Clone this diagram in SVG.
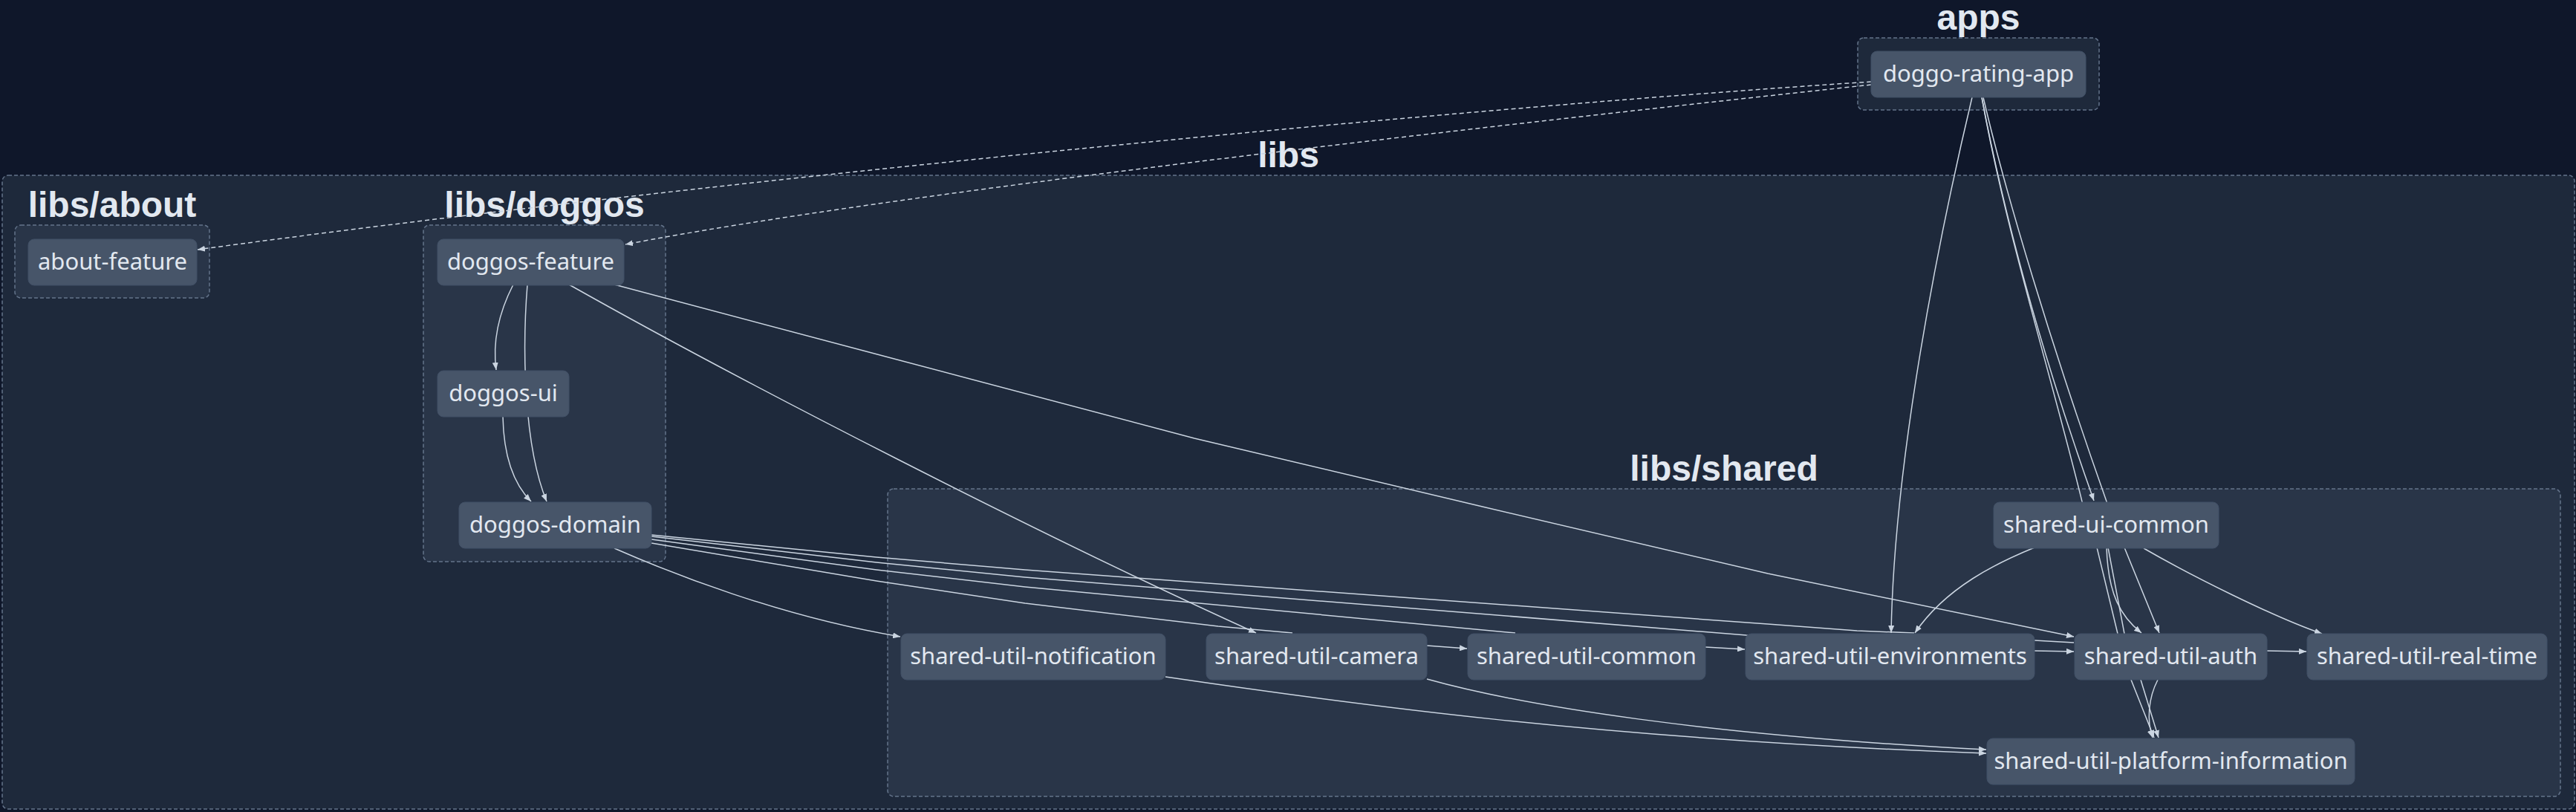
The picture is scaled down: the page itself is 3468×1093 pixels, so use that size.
<svg xmlns="http://www.w3.org/2000/svg" width="3468" height="1093" viewBox="0 0 3468 1093">
<defs>
<style>
.bg{fill:#0f172a}
.outer{fill:#1e293b;stroke:#64748b;stroke-width:1.5;stroke-dasharray:5 3}
.inner{fill:#293548;stroke:#64748b;stroke-width:1.5;stroke-dasharray:5 3}
.title{font-family:"Liberation Sans",Arial,sans-serif;font-weight:700;font-size:48px;fill:#e2e8f0;text-anchor:middle}
.node rect{fill:#475569;stroke:#415066;stroke-width:1}
.node text{font-family:"Noto Sans","Liberation Sans",sans-serif;font-size:31px;fill:#e2e8f0;text-anchor:middle}
.edge{fill:none;stroke:#cbd5e1;stroke-width:1.5}
.arr{marker-end:url(#arrow)}
.dash{stroke-dasharray:6 4}
</style>
<marker id="arrow" viewBox="0 0 10 8" refX="10" refY="4" markerWidth="10" markerHeight="8" markerUnits="userSpaceOnUse" orient="auto">
<path d="M0,0 L10,4 L0,8 z" fill="#cbd5e1"/>
</marker>
</defs>
<rect class="bg" x="0" y="0" width="3468" height="1093"/>

<g id="groups">
<g id="group-apps"><rect class="outer" x="2501" y="51" width="325" height="97" rx="8"/><text class="title" x="2663.5" y="40">apps</text></g>
<g id="group-libs"><rect class="outer" x="3" y="236" width="3463" height="853" rx="8"/><text class="title" x="1734.5" y="225">libs</text></g>
<g id="group-libs-about"><rect class="inner" x="20" y="303" width="262" height="98" rx="8"/><text class="title" x="151" y="292">libs/about</text></g>
<g id="group-libs-doggos"><rect class="inner" x="570" y="303" width="326" height="453" rx="8"/><text class="title" x="733" y="292">libs/doggos</text></g>
<g id="group-libs-shared"><rect class="inner" x="1195" y="658" width="2252" height="414" rx="8"/><text class="title" x="2321" y="647">libs/shared</text></g>
</g>

<g id="connectors">
<path class="edge dash arr" d="M2519,110 C1900,150 900,250 266,336"/>
<path class="edge dash arr" d="M2519,114 C2000,170 1200,260 842,329"/>
<path class="edge arr" d="M2655,131 C2610,320 2550,620 2546,852"/>
<path class="edge arr" d="M2668,131 C2702,311 2755,494 2819,674"/>
<path class="edge arr" d="M2668,131 C2700,310 2760,500 2803,675 L2823,737 L2851,853 L2869,915 L2900,993"/>
<path class="edge arr" d="M2670,131 C2700,260 2760,460 2836,675 L2860,737 L2907,852"/>
<path class="edge arr" d="M2739,737 C2690,757 2620,790 2578,852"/>
<path class="edge arr" d="M2836,737 C2838,800 2855,830 2883,852"/>
<path class="edge arr" d="M2838,737 L2860,853 L2882,915 L2906,993"/>
<path class="edge arr" d="M2886,738 C2950,775 3060,830 3126,853"/>
<path class="edge arr" d="M691,383 C672,420 663,460 668,498"/>
<path class="edge arr" d="M710,383 C703,470 705,600 736,675"/>
<path class="edge arr" d="M766,383 C1000,515 1400,720 1691,852"/>
<path class="edge arr" d="M827,383 L1200,482 L1608,590 L2000,683 L2380,772 L2792,857"/>
<path class="edge arr" d="M677,561 C678,610 690,650 715,675"/>
<path class="edge arr" d="M827,738 C900,770 1050,830 1212,857"/>
<path class="edge" d="M877,731 L1180,782 L1380,812 L1640,843 L1740,852"/>
<path class="edge" d="M877,726 L1180,767 L1380,790 L2040,852"/>
<path class="edge" d="M877,720 L1180,750 L1380,767 L2380,840 L2500,849 L2577,852"/>
<path class="edge" d="M877,722 L1180,757 L1380,777 L2351,855 L2739,862 L2792,865"/>
<path class="edge arr" d="M1921,869 L1975,873"/>
<path class="edge arr" d="M2296,871 L2349,874"/>
<path class="edge arr" d="M2739,876 L2792,877"/>
<path class="edge arr" d="M3052,876 L3105,877"/>
<path class="edge arr" d="M1921,914 C2050,950 2300,990 2674,1009"/>
<path class="edge arr" d="M1569,911 C1800,945 2150,995 2674,1014"/>
<path class="edge arr" d="M2905,915 C2892,940 2890,970 2898,993"/>
</g>

<g id="node-doggo-rating-app" class="node"><rect x="2519" y="69" width="289" height="62" rx="8"/><text x="2663.5" y="110">doggo-rating-app</text></g>
<g id="node-about-feature" class="node"><rect x="38" y="322" width="227" height="62" rx="8"/><text x="151.5" y="363">about-feature</text></g>
<g id="node-doggos-feature" class="node"><rect x="589" y="322" width="251" height="62" rx="8"/><text x="714.5" y="363">doggos-feature</text></g>
<g id="node-doggos-ui" class="node"><rect x="589" y="499" width="177" height="62" rx="8"/><text x="677.5" y="540">doggos-ui</text></g>
<g id="node-doggos-domain" class="node"><rect x="618" y="676" width="259" height="62" rx="8"/><text x="747.5" y="717">doggos-domain</text></g>
<g id="node-shared-ui-common" class="node"><rect x="2684" y="676" width="303" height="62" rx="8"/><text x="2835.5" y="717">shared-ui-common</text></g>
<g id="node-shared-util-notification" class="node"><rect x="1213" y="853" width="356" height="62" rx="8"/><text x="1391" y="894">shared-util-notification</text></g>
<g id="node-shared-util-camera" class="node"><rect x="1624" y="853" width="297" height="62" rx="8"/><text x="1772.5" y="894">shared-util-camera</text></g>
<g id="node-shared-util-common" class="node"><rect x="1976" y="853" width="320" height="62" rx="8"/><text x="2136" y="894">shared-util-common</text></g>
<g id="node-shared-util-environments" class="node"><rect x="2350" y="853" width="389" height="62" rx="8"/><text x="2544.5" y="894">shared-util-environments</text></g>
<g id="node-shared-util-auth" class="node"><rect x="2793" y="853" width="259" height="62" rx="8"/><text x="2922.5" y="894">shared-util-auth</text></g>
<g id="node-shared-util-real-time" class="node"><rect x="3106" y="853" width="323" height="62" rx="8"/><text x="3267.5" y="894">shared-util-real-time</text></g>
<g id="node-shared-util-platform-information" class="node"><rect x="2675" y="994" width="495" height="62" rx="8"/><text x="2922.5" y="1035">shared-util-platform-information</text></g>
</svg>
